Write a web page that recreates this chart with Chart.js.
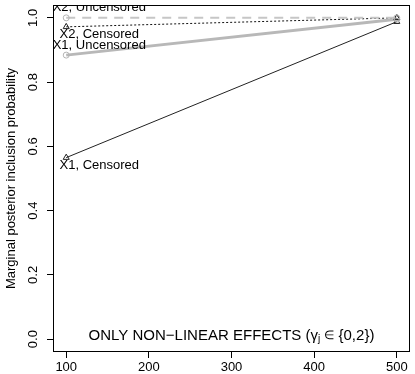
<!DOCTYPE html>
<html>
<head>
<meta charset="utf-8">
<script src="https://cdn.jsdelivr.net/npm/chart.js@4.4.0/dist/chart.umd.min.js"></script>
<style>
  html, body { margin: 0; padding: 0; background: #fff; }
  #wrap { width: 415px; height: 374px; }
</style>
</head>
<body>
<div id="wrap"><canvas id="chart"></canvas></div>
<script>
// values
const sampleSizes = [100, 500];
const x2Uncensored = [1.0, 1.0];
const x2Censored = [0.972, 1.0];
const x1Uncensored = [0.884, 0.996];
const x1Censored = [0.565, 0.988];
const seriesNames = ['X2, Uncensored', 'X2, Censored', 'X1, Uncensored', 'X1, Censored'];
const xTicks = [100, 200, 300, 400, 500];
const yTicks = [0, 0.2, 0.4, 0.6, 0.8, 1.0];

const FONT = "'Liberation Sans', Arial, Helvetica, sans-serif";

function toPoints(values) {
    return sampleSizes.map((n, i) => ({ x: n, y: values[i] }));
}

// R-like extras: box, rotated y labels, series notes, panel title
const rPlotExtras = {
    id: 'rPlotExtras',
    afterDraw(chart) {
        const { ctx, chartArea, scales } = chart;
        const xs = scales.x, ys = scales.y;
        ctx.save();

        ctx.strokeStyle = '#000';
        ctx.lineWidth = 1;
        ctx.strokeRect(chartArea.left + 0.5, chartArea.top + 0.5,
            chartArea.right - chartArea.left - 1, chartArea.bottom - chartArea.top - 1);

        ctx.fillStyle = '#000';
        ctx.font = '13px ' + FONT;
        ctx.textAlign = 'center';
        ctx.textBaseline = 'middle';
        yTicks.forEach(v => {
            ctx.save();
            ctx.translate(33, ys.getPixelForValue(v));
            ctx.rotate(-Math.PI / 2);
            ctx.fillText(v.toFixed(1), 0, 0);
            ctx.restore();
        });

        // notes next to the n=100 points, clipped to the plot region
        ctx.save();
        ctx.beginPath();
        ctx.rect(chartArea.left, chartArea.top, chartArea.right - chartArea.left, chartArea.bottom - chartArea.top);
        ctx.clip();
        const noteX = xs.getPixelForValue(140);
        const offsets = [-10, 8, -10, 8];
        chart.data.datasets.forEach((ds, i) => {
            const py = ys.getPixelForValue(ds.data[0].y);
            ctx.fillText(seriesNames[i], noteX, py + offsets[i]);
        });
        ctx.restore();

        // panel title with subscript
        const parts = [
            { t: 'ONLY NON\u2212LINEAR EFFECTS (', size: 15, dy: 0 },
            { t: '\u03b3', size: 15, dy: 0 },
            { t: 'j', size: 10, dy: 3 },
            { t: ' ', size: 15, dy: 0 },
            { t: '\u2208', size: 12, dy: 0 },
            { t: ' {0,2})', size: 15, dy: 0 }
        ];
        let total = 0;
        parts.forEach(p => {
            ctx.font = p.size + 'px ' + FONT;
            p.w = ctx.measureText(p.t).width;
            total += p.w;
        });
        let tx = xs.getPixelForValue(300) - total / 2;
        const ty = ys.getPixelForValue(0) - 3;
        ctx.textAlign = 'left';
        parts.forEach(p => {
            ctx.font = p.size + 'px ' + FONT;
            ctx.fillText(p.t, tx, ty + p.dy);
            tx += p.w;
        });

        ctx.restore();
    }
};

const ctx = document.getElementById('chart').getContext('2d');
new Chart(ctx, {
    type: 'scatter',
    data: {
        datasets: [
            {
                label: seriesNames[0],
                data: toPoints(x2Uncensored),
                showLine: true,
                borderColor: '#c6c6c6',
                borderWidth: 2,
                borderDash: [9, 7],
                pointStyle: 'circle',
                pointRadius: 3,
                pointBorderWidth: 1,
                pointBorderColor: '#b4b4b4',
                pointBackgroundColor: 'rgba(0,0,0,0)'
            },
            {
                label: seriesNames[1],
                data: toPoints(x2Censored),
                showLine: true,
                borderColor: '#111',
                borderWidth: 1,
                borderDash: [2, 2],
                pointStyle: 'triangle',
                pointRadius: 3.5,
                pointBorderWidth: 1,
                pointBorderColor: '#222',
                pointBackgroundColor: 'rgba(0,0,0,0)'
            },
            {
                label: seriesNames[2],
                data: toPoints(x1Uncensored),
                showLine: true,
                borderColor: '#b8b8b8',
                borderWidth: 3,
                pointStyle: 'circle',
                pointRadius: 3,
                pointBorderWidth: 1,
                pointBorderColor: '#b4b4b4',
                pointBackgroundColor: 'rgba(0,0,0,0)'
            },
            {
                label: seriesNames[3],
                data: toPoints(x1Censored),
                showLine: true,
                borderColor: '#222',
                borderWidth: 1,
                pointStyle: 'triangle',
                pointRadius: 3.5,
                pointBorderWidth: 1,
                pointBorderColor: '#222',
                pointBackgroundColor: 'rgba(0,0,0,0)'
            }
        ]
    },
    options: {
        responsive: true,
        maintainAspectRatio: false,
        animation: false,
        layout: { padding: { top: 1, right: 3, left: 0, bottom: 0 } },
        plugins: {
            legend: { display: false },
            tooltip: { enabled: false }
        },
        scales: {
            x: {
                type: 'linear',
                min: 84,
                max: 516,
                afterBuildTicks: s => { s.ticks = xTicks.map(v => ({ value: v })); },
                afterFit: s => { s.height = 22; },
                border: { display: false },
                grid: { drawOnChartArea: false, drawTicks: true, tickLength: 6, color: '#000' },
                ticks: {
                    color: '#000',
                    padding: 2,
                    maxRotation: 0,
                    font: { family: FONT, size: 13 }
                }
            },
            y: {
                type: 'linear',
                min: -0.04,
                max: 1.04,
                afterBuildTicks: s => { s.ticks = yTicks.map(v => ({ value: v })); },
                afterFit: s => { s.width = 53; },
                border: { display: false },
                grid: { drawOnChartArea: false, drawTicks: true, tickLength: 6, color: '#000' },
                ticks: { display: false },
                title: {
                    display: true,
                    text: 'Marginal posterior inclusion probability',
                    color: '#000',
                    padding: { top: 4, bottom: 0 },
                    font: { family: FONT, size: 13 }
                }
            }
        }
    },
    plugins: [rPlotExtras]
});
</script>
</body>
</html>
